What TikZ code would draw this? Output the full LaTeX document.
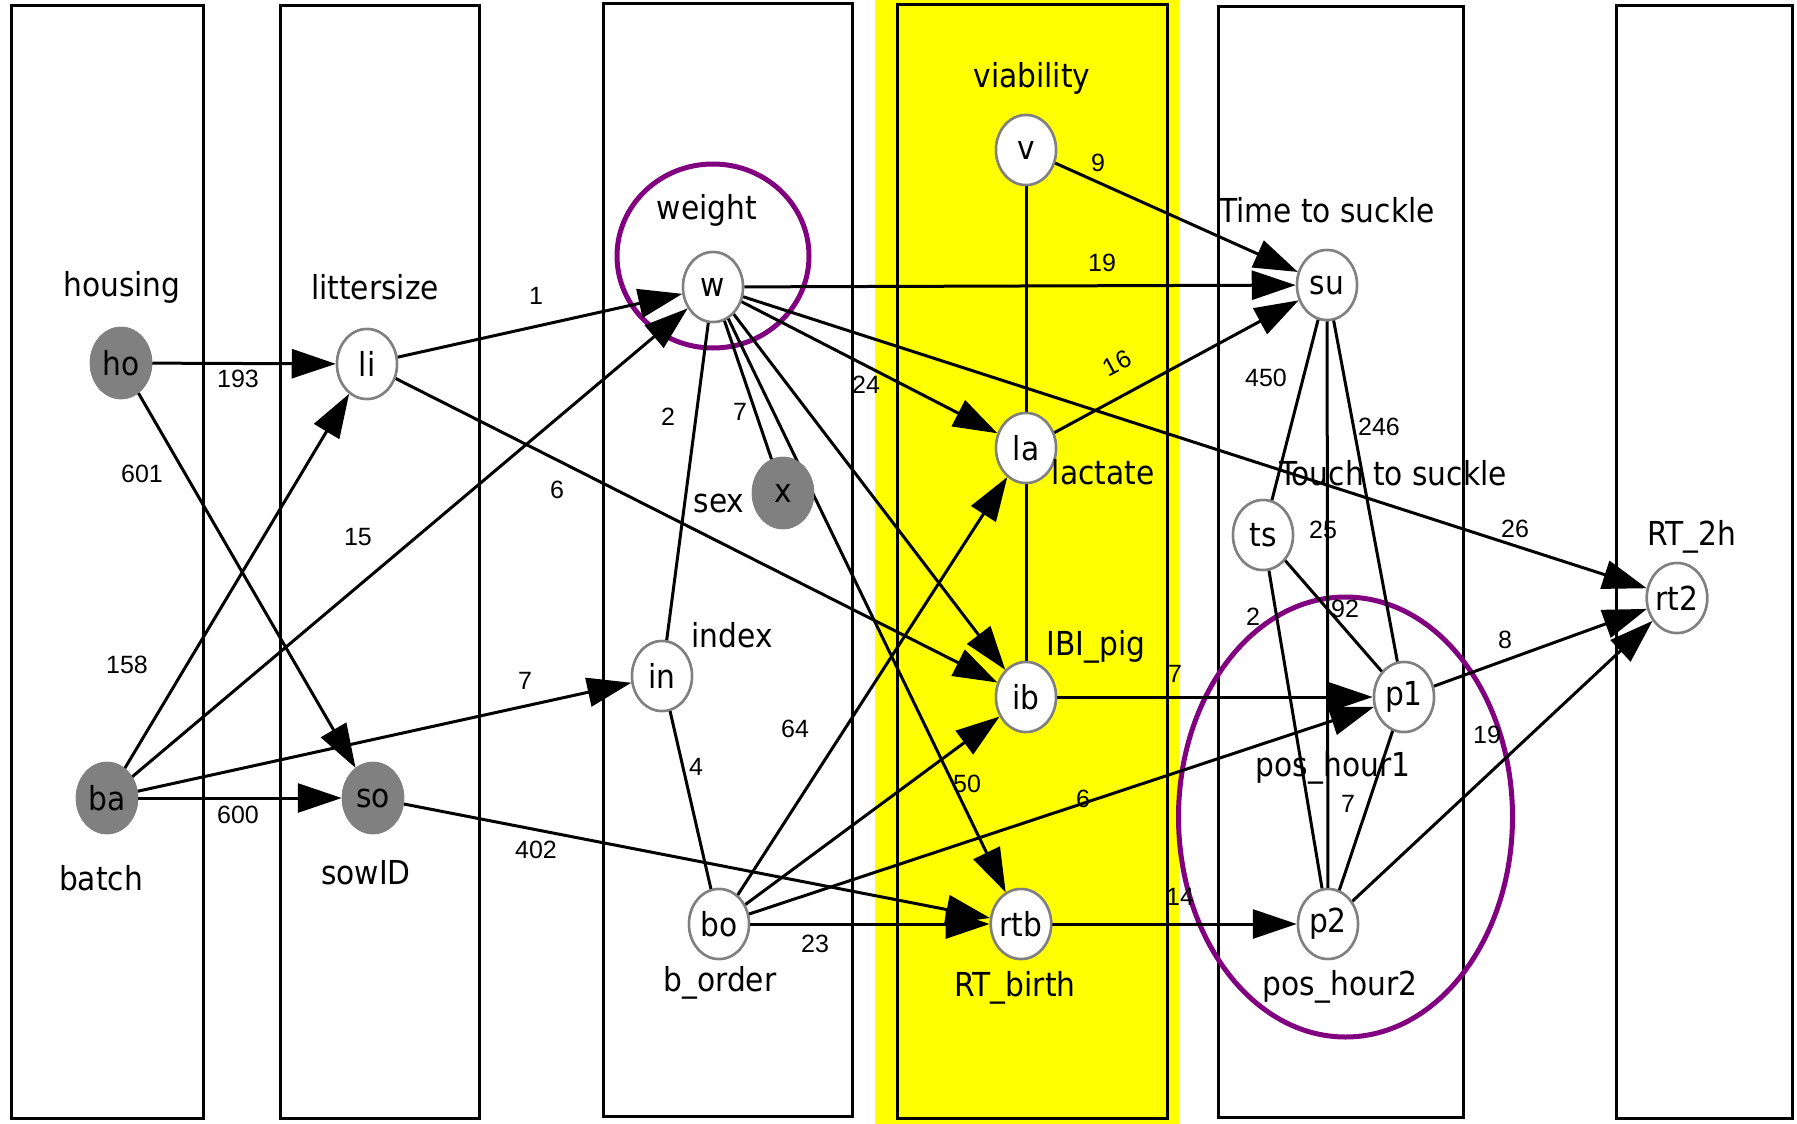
\documentclass[tikz,border=0pt]{standalone}
\usepackage{fontspec}
\setmainfont{DejaVu Sans Condensed}
\newfontfamily\numfont{Liberation Sans}
\usetikzlibrary{arrows.meta,shapes.geometric}
\definecolor{nodegray}{HTML}{808080}
\definecolor{purp}{HTML}{800080}
\definecolor{yel}{HTML}{FFFF00}
\begin{document}
\begin{tikzpicture}[x=1pt,y=-1pt,
  var/.style={ellipse,draw=nodegray,line width=2.5pt,fill=white,minimum width=60pt,minimum height=70pt,inner sep=0pt,font=\fontsize{33}{36}\selectfont},
  obs/.style={var,fill=nodegray,draw=nodegray},
  lab/.style={font=\fontsize{33}{36}\selectfont,inner sep=0pt},
  num/.style={font=\numfont\fontsize{25}{28}\selectfont,inner sep=0pt},
  arr/.style={line width=3pt,-{Triangle[length=44pt,width=29pt]}},
  und/.style={line width=3pt},
  col/.style={line width=3pt},
  ring/.style={draw=purp,line width=5pt}
]
\useasboundingbox (0,0) rectangle (1797,1124);
% background band and columns
\fill[yel] (875,0) rectangle (1179,1124);
\draw[col] (11,6) rectangle (203,1118);
\draw[col] (280,6) rectangle (479,1118);
\draw[col] (603,4) rectangle (852,1116);
\draw[col] (897,5) rectangle (1167,1118);
\draw[col] (1218,7) rectangle (1463,1117);
\draw[col] (1616,6) rectangle (1792,1118);
% highlight rings
\draw[ring] (713,256) ellipse [x radius=96pt, y radius=92pt];
\draw[ring] (1345.5,817) ellipse [x radius=167pt, y radius=220pt];
% nodes
\node[obs] (ho) at (121,363) {ho};
\node[obs] (ba) at (107,798) {ba};
\node[var] (li) at (367,364) {li};
\node[obs] (so) at (373,798) {so};
\node[var] (w) at (713,287) {w};
\node[obs] (x) at (783,493) {x};
\node[var] (in) at (662,676) {in};
\node[var] (bo) at (719,924) {bo};
\node[var] (v) at (1026,150) {v};
\node[var] (la) at (1026,448) {la};
\node[var] (ib) at (1026,697) {ib};
\node[var] (rtb) at (1021,924) {rtb};
\node[var] (su) at (1327,285) {su};
\node[var] (ts) at (1263,535) {ts};
\node[var] (p1) at (1404,697) {p1};
\node[var] (p2) at (1328,924) {p2};
\node[var] (rt2) at (1677,598) {rt2};
% edges
\begin{scope}[on background layer/.style={}]
\end{scope}
\draw[und] (w) -- (in);
\draw[und] (w) -- (x);
\draw[und] (in) -- (bo);
\draw[und] (v) -- (la);
\draw[und] (la) -- (ib);
\draw[und] (su) -- (ts);
\draw[und] (su) -- (p1);
\draw[und] (su) -- (p2);
\draw[und] (ts) -- (p1);
\draw[und] (ts) -- (p2);
\draw[und] (p1) -- (p2);
\draw[arr] (ho) -- (li);
\draw[arr] (ho) -- (so);
\draw[arr] (ba) -- (li);
\draw[arr] (ba) -- (w);
\draw[arr] (ba) -- (in);
\draw[arr] (ba) -- (so);
\draw[arr] (li) -- (w);
\draw[arr] (li) -- (ib);
\draw[arr] (so) -- (rtb);
\draw[arr] (w) -- (su);
\draw[arr] (w) -- (la);
\draw[arr] (w) -- (ib);
\draw[arr] (w) -- (rtb);
\draw[arr] (w) -- (rt2);
\draw[arr] (bo) -- (la);
\draw[arr] (bo) -- (ib);
\draw[arr] (bo) -- (p1);
\draw[arr] (bo) -- (rtb);
\draw[arr] (v) -- (su);
\draw[arr] (la) -- (su);
\draw[arr] (ib) -- (p1);
\draw[arr] (rtb) -- (p2);
\draw[arr] (p1) -- (rt2);
\draw[arr] (p2) -- (rt2);
% redraw nodes on top
\node[obs] at (ho) {ho};
\node[obs] at (ba) {ba};
\node[var] at (li) {li};
\node[obs] at (so) {so};
\node[var] at (w) {w};
\node[obs] at (x) {x};
\node[var] at (in) {in};
\node[var] at (bo) {bo};
\node[var] at (v) {v};
\node[var] at (la) {la};
\node[var] at (ib) {ib};
\node[var] at (rtb) {rtb};
\node[var] at (su) {su};
\node[var] at (ts) {ts};
\node[var] at (p1) {p1};
\node[var] at (p2) {p2};
\node[var] at (rt2) {rt2};
% variable labels
\node[lab] (tho) at (122,287) {housing};
\node[lab] (tli) at (375,287) {littersize};
\node[lab] (tba) at (101,878) {batch};
\node[lab] (tso) at (366,873) {sowID};
\node[lab] (tw) at (707,210) {weight};
\node[lab] (tx) at (719,503) {sex};
\node[lab] (tin) at (732,635) {index};
\node[lab] (tbo) at (720,983) {b\_order};
\node[lab] (tib) at (1096,647) {IBI\_pig};
\node[lab] (trtb) at (1015,988) {RT\_birth};
\node[lab] (tv) at (1032,78) {viability};
\node[lab] (tla) at (1103,472) {lactate};
\node[lab] (tsu) at (1327,210) {Time to suckle};
\node[lab] (tts) at (1393,473) {Touch to suckle};
\node[lab] (tp1) at (1333,768) {pos\_hour1};
\node[lab] (tp2) at (1340,987) {pos\_hour2};
\node[lab] (trt2) at (1692,537) {RT\_2h};
% edge numbers
\node[num] (n1) at (536,296) {1};
\node[num] (n2) at (238,379) {193};
\node[num] (n3) at (142,474) {601};
\node[num] (n4) at (358,537) {15};
\node[num] (n5) at (557,490) {6};
\node[num] (n6) at (127,665) {158};
\node[num] (n7) at (238,815) {600};
\node[num] (n8) at (525,681) {7};
\node[num] (n9) at (536,850) {402};
\node[num] (n10) at (668,417) {2};
\node[num] (n11) at (740,412) {7};
\node[num] (n12) at (866,385) {24};
\node[num] (n13) at (795,729) {64};
\node[num] (n14) at (696,767) {4};
\node[num] (n15) at (967,784) {50};
\node[num] (n16) at (815,944) {23};
\node[num] (n17) at (1098,163) {9};
\node[num] (n18) at (1102,263) {19};
\node[num,rotate=28] (n19) at (1117,363) {16};
\node[num] (n20) at (1266,378) {450};
\node[num] (n21) at (1379,427) {246};
\node[num] (n22) at (1323,530) {25};
\node[num] (n23) at (1515,529) {26};
\node[num] (n24) at (1253,617) {2};
\node[num] (n25) at (1345,609) {92};
\node[num] (n26) at (1505,640) {8};
\node[num] (n27) at (1487,735) {19};
\node[num] (n28) at (1175,674) {7};
\node[num] (n29) at (1348,804) {7};
\node[num] (n30) at (1180,897) {14};
\node[num] (n31) at (1083,799) {6};
\end{tikzpicture}
\end{document}
